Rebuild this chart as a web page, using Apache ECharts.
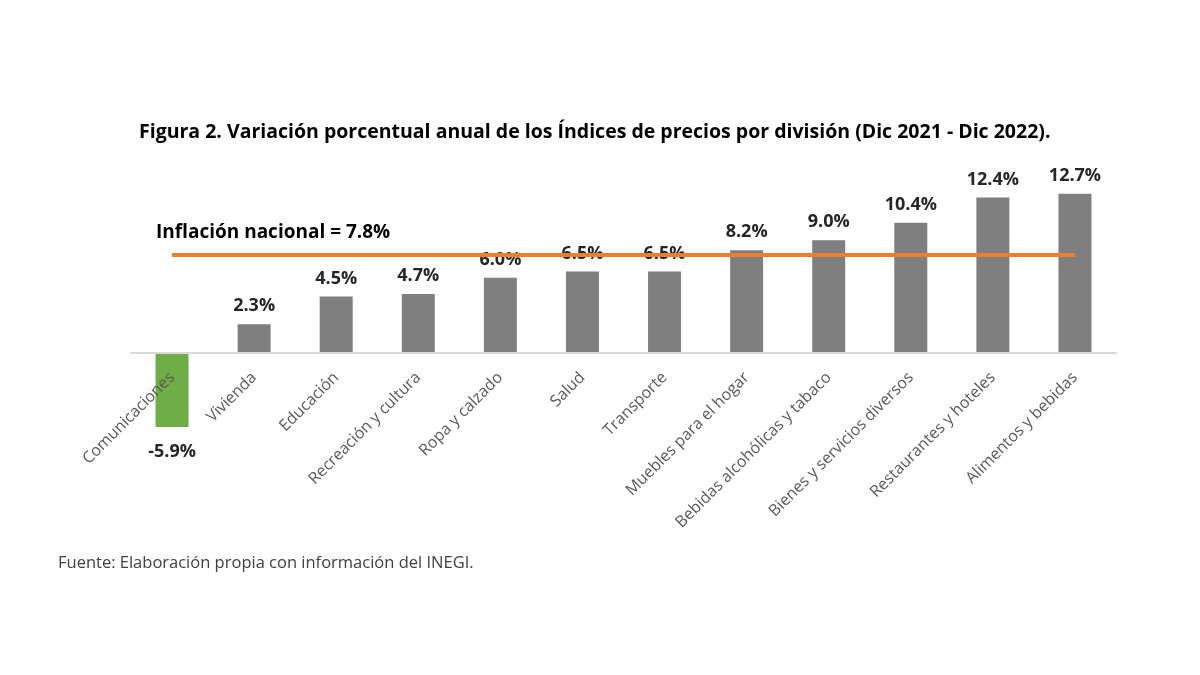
<!DOCTYPE html>
<html>
<head>
<meta charset="utf-8">
<script src="https://cdn.jsdelivr.net/npm/echarts@6/dist/echarts.min.js"></script>
<style>
  html, body { margin:0; padding:0; background:#fff; }
  #chart { width:1200px; height:675px; }
</style>
</head>
<body>
<div id="chart"></div>
<script>
const categories = ['Comunicaciones','Vivienda','Educación','Recreación y cultura','Ropa y calzado','Salud','Transporte','Muebles para el hogar','Bebidas alcohólicas y tabaco','Bienes y servicios diversos','Restaurantes y hoteles','Alimentos y bebidas'];
const values = [-5.9, 2.3, 4.5, 4.7, 6.0, 6.5, 6.5, 8.2, 9.0, 10.4, 12.4, 12.7];
const inflacion = 7.8;

const FONT = '"Open Sans", sans-serif';

const chart = echarts.init(document.getElementById('chart'));

// zero line sits at the grid bottom so the category labels hang from it
const barData = values.map(v => ({
    value: v,
    itemStyle: { color: v < 0 ? '#70ad47' : '#7f7f7f' },
    label: v < 0 ? { position:'bottom', distance:16 } : undefined
}));

chart.setOption({
    backgroundColor: '#fff',
    animation: false,
    title: {
        text: 'Figura 2. Variación porcentual anual de los Índices de precios por división (Dic 2021 - Dic 2022).',
        left: 134, top: 117,
        textStyle: { fontFamily: FONT, fontWeight:'bold', fontSize:19.5, color:'#000' }
    },
    grid: { left:131, right:84, top:165, bottom:322, containLabel:false },
    xAxis: {
        type:'category', data:categories, z:5,
        axisLine: { show:true, lineStyle:{ color:'#d9d9d9', width:2 } },
        axisTick: { show:false },
        axisLabel: { interval:0, rotate:45, color:'#595959', fontFamily:FONT, fontSize:16, margin:22 }
    },
    yAxis: {
        type:'value', min:0, max:15, show:false, splitLine:{ show:false }
    },
    graphic: [
        { type:'text', left:156, top:223, style:{ text:'Inflación nacional = '+inflacion+'%', font:'bold 19px "Open Sans", sans-serif', fill:'#000' } },
        { type:'text', left:58, top:555, style:{ text:'Fuente: Elaboración propia con información del INEGI.', font:'16.5px "Open Sans", sans-serif', fill:'#404040' } }
    ],
    series: [{
        type:'bar', barWidth:33, data:barData, clip:false,
        label: {
            show:true, position:'top', distance:9,
            formatter: p => p.value.toFixed(1) + '%',
            fontFamily:FONT, fontWeight:'bold', fontSize:18, color:'#262626'
        },
        markLine: {
            silent:true, symbol:'none', z:5,
            lineStyle:{ color:'#ed7d31', width:4, type:'solid' },
            label:{ show:false },
            data: [[ { coord:[0, inflacion] }, { coord:[categories.length-1, inflacion] } ]]
        }
    }]
});
</script>
</body>
</html>
